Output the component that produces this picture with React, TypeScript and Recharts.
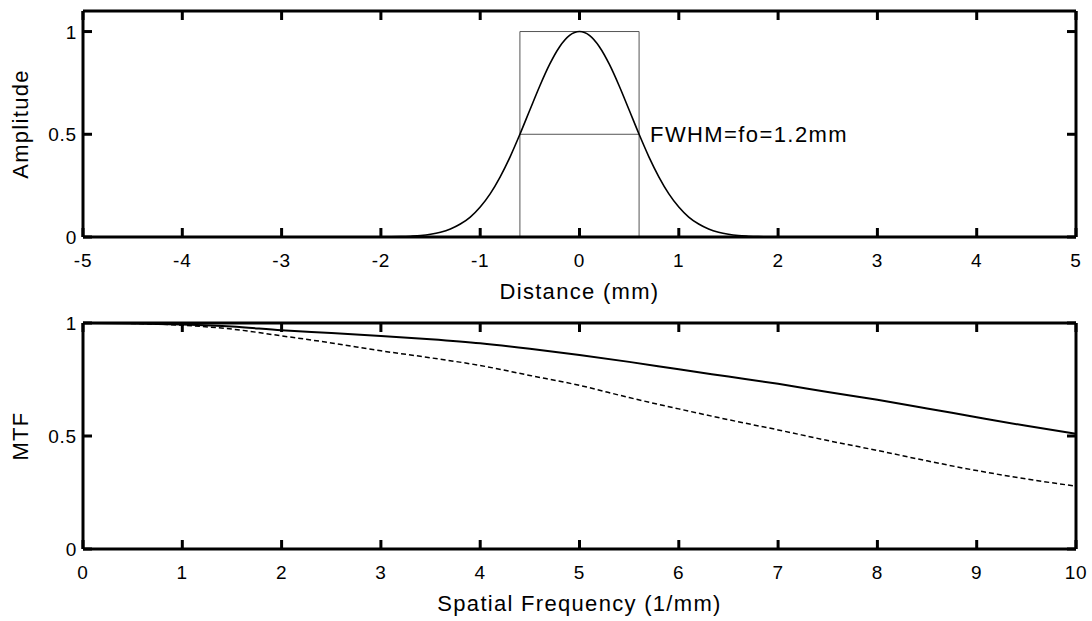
import { LineChart, Line, XAxis, YAxis, ReferenceLine, ReferenceDot, Label } from 'recharts'

// top panel: point spread (gaussian)
const distance = [
  -5, -2, -1.9, -1.8, -1.7, -1.6, -1.5, -1.4, -1.3, -1.2, -1.1, -1, -0.9, -0.8, -0.7, -0.6, -0.5, -0.4, -0.3, -0.2,
  -0.1, 0, 0.1, 0.2, 0.3, 0.4, 0.5, 0.6, 0.7, 0.8, 0.9, 1, 1.1, 1.2, 1.3, 1.4, 1.5, 1.6, 1.7, 1.8, 1.9, 2, 5,
]
const amplitude = [
  0, 0.0005, 0.001, 0.002, 0.004, 0.007, 0.013, 0.023, 0.039, 0.063, 0.097, 0.146, 0.21, 0.292, 0.389, 0.5, 0.618,
  0.735, 0.841, 0.926, 0.981, 1, 0.981, 0.926, 0.841, 0.735, 0.618, 0.5, 0.389, 0.292, 0.21, 0.146, 0.097, 0.063,
  0.039, 0.023, 0.013, 0.007, 0.004, 0.002, 0.001, 0.0005, 0,
]
const boxX = [-0.6, -0.6, 0.6, 0.6]
const boxY = [0, 1, 1, 0]
const halfX = [-0.6, 0.6]
const halfY = [0.5, 0.5]
const distTicks = [-5, -4, -3, -2, -1, 0, 1, 2, 3, 4, 5]
const ampTicks = [0, 0.5, 1]

// bottom panel: MTF curves
const freq = [0, 0.5, 1, 1.5, 2, 2.5, 3, 3.5, 4, 4.5, 5, 5.5, 6, 6.5, 7, 7.5, 8, 8.5, 9, 9.5, 10]
const mtfSolid = [
  1, 0.998, 0.993, 0.984, 0.968, 0.956, 0.943, 0.928, 0.91, 0.886, 0.858, 0.828, 0.795, 0.763, 0.731, 0.695, 0.66,
  0.622, 0.583, 0.545, 0.51,
]
const mtfDashed = [
  1, 0.998, 0.99, 0.973, 0.943, 0.912, 0.877, 0.846, 0.812, 0.768, 0.724, 0.67, 0.62, 0.572, 0.527, 0.48, 0.436,
  0.39, 0.347, 0.31, 0.278,
]
const freqTicks = [0, 1, 2, 3, 4, 5, 6, 7, 8, 9, 10]
const mtfTicks = [0, 0.5, 1]

const psfData = distance.map((x, i) => ({ x, y: amplitude[i] }))
const boxData = boxX.map((x, i) => ({ x, y: boxY[i] }))
const halfData = halfX.map((x, i) => ({ x, y: halfY[i] }))
const mtfData = freq.map((f, i) => ({ f, solid: mtfSolid[i], dashed: mtfDashed[i] }))

const axisStroke = { stroke: '#000', strokeWidth: 3 }
const hiddenTickLine = { stroke: 'none' }

// tick labels only (default tickSize 6 + tickMargin 2 already in p.x / p.y)
const bottomTick = (p: any) => (
  <text x={p.x} y={p.y + 22} textAnchor="middle" fontSize={19} letterSpacing={0.8} fill="#000">
    {p.payload.value}
  </text>
)
const leftTick = (p: any) => (
  <text x={p.x + 2} y={p.y + 7} textAnchor="end" fontSize={19} letterSpacing={0.8} fill="#000">
    {p.payload.value}
  </text>
)

// matlab style inward ticks (about 9px) on all four sides, as reference segments in data units
function boxTicks(xTicks: number[], yTicks: number[], x0: number, x1: number, y0: number, y1: number) {
  const tx = ((x1 - x0) * 9) / 993
  const ty = ((y1 - y0) * 9) / 226
  const style = { stroke: '#000', strokeWidth: 3 }
  const out: any[] = []
  xTicks.forEach((v) => {
    out.push(<ReferenceLine key={`b${v}`} segment={[{ x: v, y: y0 }, { x: v, y: y0 + ty }]} {...style} />)
    out.push(<ReferenceLine key={`t${v}`} segment={[{ x: v, y: y1 - ty }, { x: v, y: y1 }]} {...style} />)
  })
  yTicks.forEach((v) => {
    out.push(<ReferenceLine key={`l${v}`} segment={[{ x: x0, y: v }, { x: x0 + tx, y: v }]} {...style} />)
    out.push(<ReferenceLine key={`r${v}`} segment={[{ x: x1 - tx, y: v }, { x: x1, y: v }]} {...style} />)
  })
  return out
}

const yTitle = (text: string) => (props: any) => {
  const { y, height } = props.viewBox
  return (
    <text
      transform={`translate(20, ${y + height / 2}) rotate(-90)`}
      textAnchor="middle"
      dominantBaseline="central"
      fontSize={22}
      letterSpacing={1.3}
      fill="#000"
    >
      {text}
    </text>
  )
}

const xTitle = (text: string) => (props: any) => {
  const { x, y, width } = props.viewBox
  return (
    <text x={x + width / 2} y={y + 62} textAnchor="middle" fontSize={22} letterSpacing={1.3} fill="#000">
      {text}
    </text>
  )
}

export default function App() {
  return (
    <div
      style={{
        position: 'absolute',
        left: 0,
        top: 0,
        width: 1092,
        height: 621,
        background: '#fff',
        fontFamily: '"Liberation Sans", Arial, sans-serif',
      }}
    >
      {/* Amplitude vs distance */}
      <div style={{ position: 'absolute', left: 0, top: 0 }}>
        <LineChart width={1092} height={310} margin={{ top: 11, right: 16, bottom: 13, left: 23 }}>
          <XAxis
            dataKey="x"
            type="number"
            domain={[-5, 5]}
            ticks={distTicks}
            height={60}
            axisLine={axisStroke}
            tickLine={hiddenTickLine}
            tick={bottomTick}
          >
            <Label content={xTitle('Distance (mm)')} />
          </XAxis>
          <YAxis
            type="number"
            domain={[0, 1.1]}
            ticks={ampTicks}
            width={60}
            axisLine={axisStroke}
            tickLine={hiddenTickLine}
            tick={leftTick}
          >
            <Label content={yTitle('Amplitude')} />
          </YAxis>
          <ReferenceLine y={1.1} stroke="#000" strokeWidth={3} />
          <ReferenceLine x={5} stroke="#000" strokeWidth={3} />
          {boxTicks(distTicks, ampTicks, -5, 5, 0, 1.1)}
          <Line data={boxData} dataKey="y" stroke="#555" strokeWidth={1} dot={false} isAnimationActive={false} />
          <Line data={halfData} dataKey="y" stroke="#555" strokeWidth={1} dot={false} isAnimationActive={false} />
          <Line
            data={psfData}
            dataKey="y"
            type="monotone"
            stroke="#000"
            strokeWidth={1.6}
            dot={false}
            isAnimationActive={false}
          />
          <ReferenceDot
            x={0.6}
            y={0.5}
            r={1}
            fill="none"
            stroke="none"
            label={{ value: 'FWHM=fo=1.2mm', position: 'right', offset: 10, fill: '#000', fontSize: 22, letterSpacing: 1.4 }}
          />
        </LineChart>
      </div>

      {/* MTF vs spatial frequency */}
      <div style={{ position: 'absolute', left: 0, top: 310 }}>
        <LineChart width={1092} height={311} data={mtfData} margin={{ top: 13, right: 16, bottom: 12, left: 23 }}>
          <XAxis
            dataKey="f"
            type="number"
            domain={[0, 10]}
            ticks={freqTicks}
            height={60}
            axisLine={axisStroke}
            tickLine={hiddenTickLine}
            tick={bottomTick}
          >
            <Label content={xTitle('Spatial Frequency (1/mm)')} />
          </XAxis>
          <YAxis
            type="number"
            domain={[0, 1]}
            ticks={mtfTicks}
            width={60}
            axisLine={axisStroke}
            tickLine={hiddenTickLine}
            tick={leftTick}
          >
            <Label content={yTitle('MTF')} />
          </YAxis>
          <ReferenceLine y={1} stroke="#000" strokeWidth={3} />
          <ReferenceLine x={10} stroke="#000" strokeWidth={3} />
          {boxTicks(freqTicks, mtfTicks, 0, 10, 0, 1)}
          <Line dataKey="solid" type="monotone" stroke="#000" strokeWidth={2} dot={false} isAnimationActive={false} />
          <Line
            dataKey="dashed"
            type="monotone"
            stroke="#000"
            strokeWidth={1.5}
            strokeDasharray="5 3"
            dot={false}
            isAnimationActive={false}
          />
        </LineChart>
      </div>
    </div>
  )
}
